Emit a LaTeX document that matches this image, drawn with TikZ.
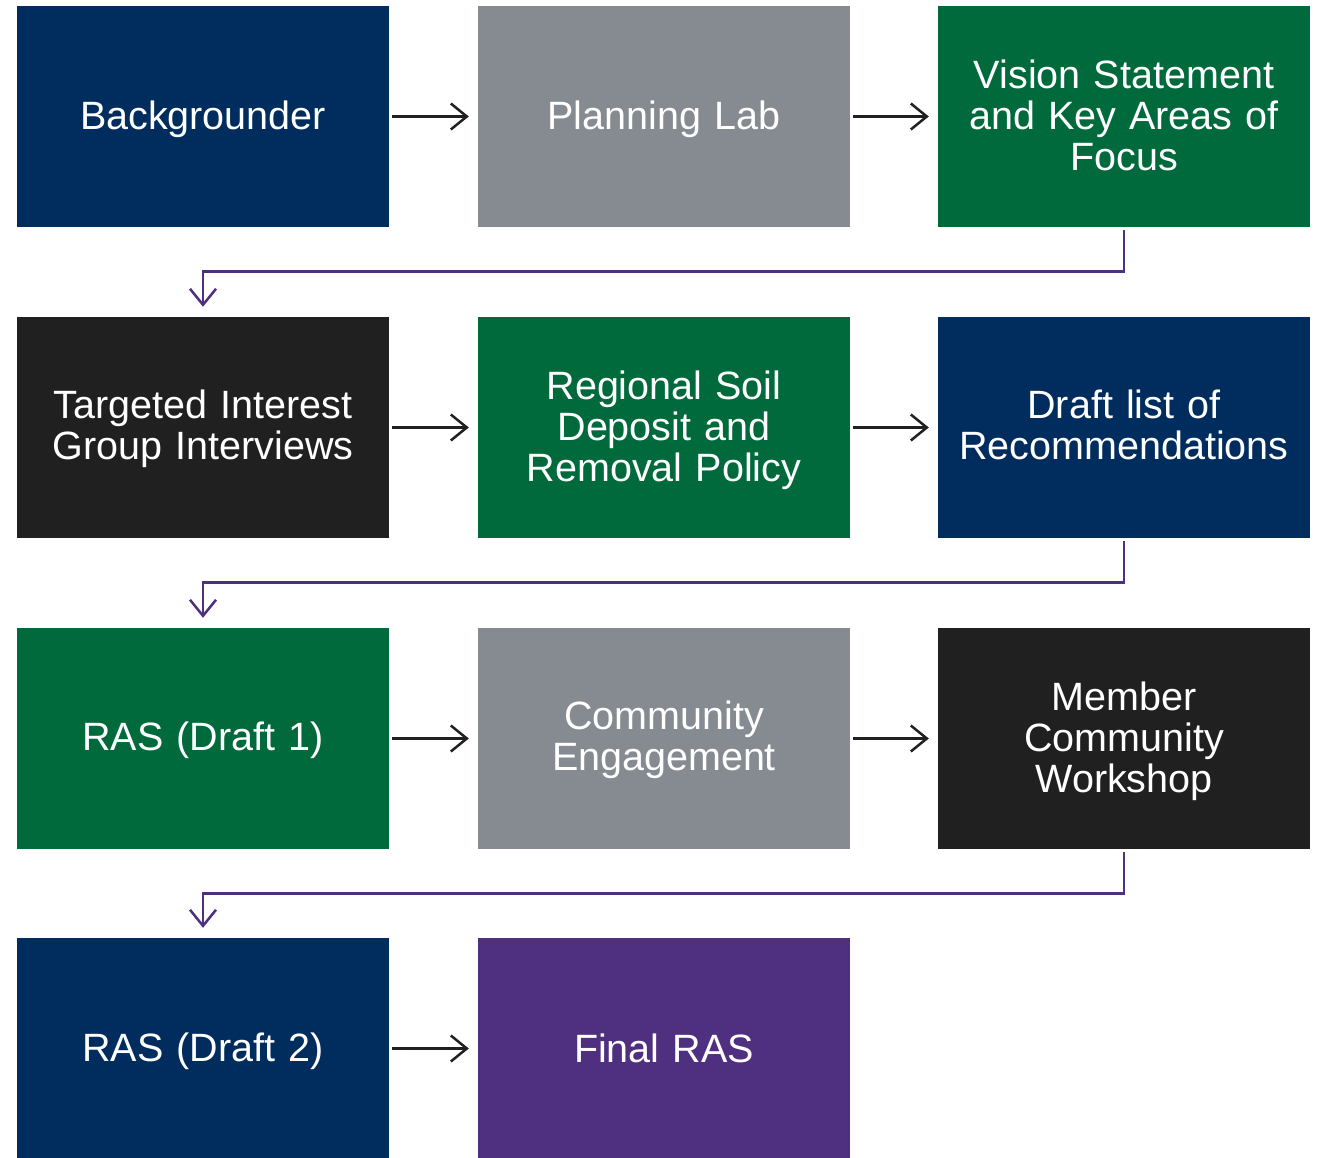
\documentclass[tikz,border=0pt]{standalone}
\usepackage{fontspec}
\setmainfont{Liberation Sans}
\usetikzlibrary{arrows.meta}
\definecolor{navy}{RGB}{0,45,93}
\definecolor{slate}{RGB}{133,139,144}
\definecolor{forest}{RGB}{0,106,60}
\definecolor{ink}{RGB}{32,32,32}
\definecolor{plum}{RGB}{79,47,127}
\newcommand{\shiftdn}[2]{\raisebox{-#1}[\height][\depth]{#2}}
\tikzset{
  card/.style={fill=#1, draw=none, minimum width=372pt, minimum height=221pt, inner sep=0pt,
    text=white, align=center, text width=340pt, font=\fontsize{39.5}{41}\selectfont},
  flow/.style={draw=ink, line width=2.5pt, -{Straight Barb[length=16pt,width=26pt,line width=2.5pt]}, shorten <=3pt, shorten >=9pt},
  wrap/.style={draw=plum, line width=2.8pt, -{Straight Barb[length=16pt,width=26pt,line width=2.5pt]}, shorten <=3pt, shorten >=10pt}
}
\begin{document}
\begin{tikzpicture}[x=1pt,y=-1pt]
\useasboundingbox (0,0) rectangle (1319,1158);
\fill[white] (0,0) rectangle (1319,1158);
\begin{scope}
\clip (0,0) rectangle (1319,1158);
\node[card=navy]   (bg)  at (203,116.5) {\shiftdn{3pt}{Backgrounder}};
\node[card=slate]  (pl)  at (664,116.5) {\shiftdn{3pt}{Planning Lab}};
\node[card=forest] (vs)  at (1124,116.5) {\shiftdn{-1pt}{Vision Statement}\\\shiftdn{-1pt}{and Key Areas of}\\\shiftdn{-1pt}{Focus}};
\node[card=ink]    (ti)  at (203,427.5) {\shiftdn{1.5pt}{Targeted Interest}\\\shiftdn{1.5pt}{Group Interviews}};
\node[card=forest] (rs)  at (664,427.5) {\shiftdn{2.5pt}{Regional Soil}\\\shiftdn{2.5pt}{Deposit and}\\\shiftdn{2.5pt}{Removal Policy}};
\node[card=navy]   (dl)  at (1124,427.5) {\shiftdn{-2.5pt}{Draft list of}\\\shiftdn{-2.5pt}{Recommendations}};
\node[card=forest] (r1)  at (203,738.5) {\shiftdn{2pt}{RAS (Draft 1)}};
\node[card=slate]  (ce)  at (664,738.5) {\shiftdn{1pt}{Community}\\\shiftdn{1pt}{Engagement}};
\node[card=ink]    (mc)  at (1124,738.5) {\shiftdn{2.5pt}{Member}\\\shiftdn{2.5pt}{Community}\\\shiftdn{2.5pt}{Workshop}};
\node[card=navy]   (r2)  at (203,1048.5) {\shiftdn{3pt}{RAS (Draft 2)}};
\node[card=plum]   (fr)  at (664,1048.5) {Final RAS};
\end{scope}
\draw[flow] (bg) -- (pl);
\draw[flow] (pl) -- (vs);
\draw[flow] (ti) -- (rs);
\draw[flow] (rs) -- (dl);
\draw[flow] (r1) -- (ce);
\draw[flow] (ce) -- (mc);
\draw[flow] (r2) -- (fr);
\draw[wrap] (vs.south) -- ++(0,44) -| (ti.north);
\draw[wrap] (dl.south) -- ++(0,44) -| (r1.north);
\draw[wrap] (mc.south) -- ++(0,44) -| (r2.north);
\end{tikzpicture}
\end{document}
